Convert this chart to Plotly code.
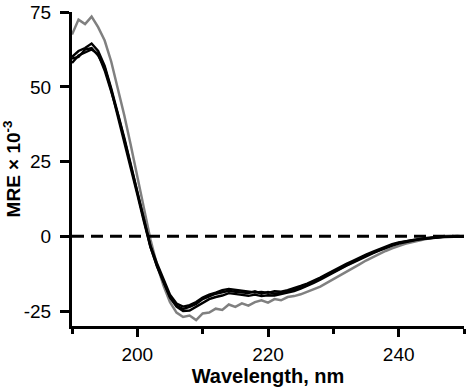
import plotly.graph_objects as go

wavelength = list(range(190, 251))

gray_series = [67.5, 72.5, 71.0, 73.5, 70.0, 65.5, 58.5, 50.0, 40.5, 30.5,
               20.0, 9.5, -1.0, -9.5, -16.5, -22.0, -25.5, -27.0, -26.5, -28.0,
               -25.8, -25.5, -24.2, -24.6, -22.8, -23.6, -22.4, -23.2, -22.0, -21.4,
               -22.2, -21.0, -21.4, -20.3, -20.0, -19.4, -18.6, -17.6, -16.8, -15.6,
               -14.4, -13.2, -11.9, -10.6, -9.4, -8.1, -7.0, -5.9, -4.9, -4.0,
               -3.2, -2.5, -2.0, -1.4, -1.0, -0.6, -0.2, 0.1, 0.2, 0.0, 0.1]

black_series_1 = [60.0, 62.0, 63.0, 64.5, 62.0, 57.0, 49.5, 41.5, 33.0, 24.0,
                  15.0, 5.5, -3.5, -10.0, -15.5, -20.5, -23.5, -25.0, -24.8, -23.5,
                  -22.2, -21.0, -20.3, -19.8, -19.0, -19.4, -19.6, -19.9, -19.5, -20.0,
                  -19.7, -19.8, -19.3, -19.0, -18.3, -17.5, -16.6, -15.6, -14.5, -13.3,
                  -12.1, -10.9, -9.8, -8.8, -7.7, -6.6, -5.7, -4.8, -3.9, -3.1,
                  -2.4, -1.9, -1.5, -1.1, -0.8, -0.5, -0.4, -0.2, -0.1, 0.0, -0.1]

black_series_2 = [58.0, 60.5, 61.5, 62.5, 61.0, 55.5, 48.5, 41.0, 32.5, 23.5,
                  14.5, 5.0, -3.0, -9.0, -14.5, -19.5, -22.5, -23.5, -23.0, -22.0,
                  -20.5, -19.5, -18.8, -18.0, -17.6, -17.9, -18.2, -18.4, -18.8, -18.6,
                  -18.9, -18.4, -18.5, -18.0, -17.4, -16.6, -15.8, -14.9, -13.8, -12.6,
                  -11.4, -10.3, -9.2, -8.2, -7.1, -6.1, -5.2, -4.3, -3.4, -2.6,
                  -2.0, -1.6, -1.2, -0.9, -0.6, -0.4, -0.2, -0.1, 0.0, 0.1, 0.0]

black_series_3 = [59.5, 60.0, 62.5, 63.0, 60.5, 56.5, 49.0, 40.5, 32.0, 23.0,
                  14.0, 5.0, -3.5, -9.8, -15.2, -20.2, -23.2, -24.3, -23.6, -22.6,
                  -21.0, -20.2, -19.2, -18.7, -18.2, -18.6, -18.8, -19.0, -18.4, -19.2,
                  -18.6, -19.2, -18.9, -18.4, -17.9, -17.2, -16.3, -15.2, -14.1, -12.9,
                  -11.8, -10.6, -9.5, -8.5, -7.4, -6.4, -5.5, -4.6, -3.6, -2.9,
                  -2.2, -1.7, -1.3, -1.0, -0.7, -0.5, -0.3, -0.1, -0.1, 0.0, 0.0]

y_ticks = [-25, 0, 25, 50, 75]
x_ticks = [200, 220, 240]

FONT = "Liberation Sans, Arial, sans-serif"

fig = go.Figure()
fig.add_hline(y=0, line=dict(color="black", width=3, dash="12px,7px"))

fig.add_trace(go.Scatter(x=wavelength, y=gray_series, mode="lines",
                         line=dict(color="#808080", width=2.5), showlegend=False))
for s in (black_series_1, black_series_2, black_series_3):
    fig.add_trace(go.Scatter(x=wavelength, y=s, mode="lines",
                             line=dict(color="black", width=2.4), showlegend=False))

fig.update_layout(
    width=466, height=388,
    margin=dict(l=72, r=2, t=10, b=62),
    paper_bgcolor="white", plot_bgcolor="white",
    font=dict(family=FONT, size=19, color="black"),
    showlegend=False,
    xaxis=dict(
        range=[190, 250], tickvals=x_ticks, ticktext=[str(v) for v in x_ticks],
        showgrid=False, zeroline=False, showline=True, linecolor="black", linewidth=3,
        ticks="outside", ticklen=8, tickwidth=3, tickcolor="black",
        ticklabelstandoff=1,
        minor=dict(tick0=190, dtick=10, ticks="outside", ticklen=5, tickwidth=3, tickcolor="black"),
        title=dict(text="<b>Wavelength, nm</b>", font=dict(family=FONT, size=20), standoff=5),
    ),
    yaxis=dict(
        range=[-30, 75.05], tickvals=y_ticks, ticktext=[str(v) for v in y_ticks],
        showgrid=False, zeroline=False, showline=True, linecolor="black", linewidth=3,
        ticks="outside", ticklen=9, tickwidth=3, tickcolor="black",
        ticklabelstandoff=5, ticklabeloverflow="allow",
        title=dict(text="<b>MRE × 10<sup>-3</sup></b>", font=dict(family=FONT, size=19), standoff=8),
    ),
)

fig.write_html("out.html", config={"displayModeBar": False},
               post_script="document.body.style.margin='0';document.body.style.overflow='hidden';")
